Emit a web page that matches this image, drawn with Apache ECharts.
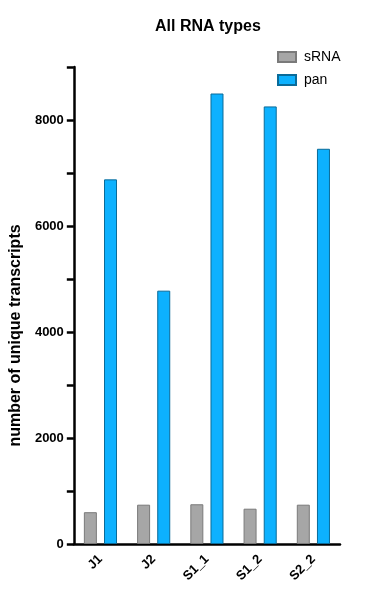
<!DOCTYPE html>
<html>
<head>
<meta charset="utf-8">
<script src="https://cdn.jsdelivr.net/npm/echarts@6/dist/echarts.min.js"></script>
<style>
html,body{margin:0;padding:0;background:#fff;}
#chart{width:371px;height:600px;}
</style>
</head>
<body>
<div id="chart"></div>
<script>
const categories = ['J1', 'J2', 'S1_1', 'S1_2', 'S2_2'];
const sRNA = [600, 742, 750, 666, 742];
const pan = [6880, 4780, 8500, 8256, 7457];
const seriesNames = ['sRNA', 'pan'];

const chart = echarts.init(document.getElementById('chart'), null, {renderer: 'canvas'});
const font = 'Liberation Sans, Arial, Helvetica, sans-serif';
chart.setOption({
  animation: false,
  backgroundColor: '#fff',
  title: {
    text: 'All RNA types',
    left: 150,
    top: 14,
    textStyle: {fontFamily: font, fontWeight: 'bold', fontSize: 16, color: '#000'}
  },
  legend: {
    orient: 'vertical',
    left: 272,
    top: 45,
    icon: 'rect',
    itemWidth: 18,
    itemHeight: 10,
    itemGap: 9,
    textStyle: {fontFamily: font, fontSize: 14, color: '#000', padding: [0, 0, 0, 3]},
    data: seriesNames
  },
  grid: {left: 69, right: 31, top: 67, bottom: 56, containLabel: false},
  xAxis: {
    type: 'category',
    data: categories,
    axisLine: {lineStyle: {color: '#000', width: 2.5}},
    axisTick: {alignWithLabel: true, length: 7, lineStyle: {color: '#000', width: 2.5}},
    axisLabel: {rotate: 45, margin: 13, fontFamily: font, fontWeight: 'bold', fontSize: 13, color: '#000'}
  },
  yAxis: {
    type: 'value',
    min: 0,
    max: 9000,
    interval: 1000,
    name: 'number of unique transcripts',
    nameLocation: 'middle',
    nameGap: 46,
    nameTextStyle: {fontFamily: font, fontWeight: 'bold', fontSize: 16, color: '#000', padding: [0, 60, 0, 0]},
    axisLine: {show: true, lineStyle: {color: '#000', width: 2.5}},
    axisTick: {show: true, length: 7, lineStyle: {color: '#000', width: 2.5}},
    splitLine: {show: false},
    axisLabel: {
      margin: 10,
      fontFamily: font, fontWeight: 'bold', fontSize: 13, color: '#000',
      formatter: v => (v % 2000 === 0 ? String(v) : '')
    }
  },
  series: [
    {
      name: seriesNames[0], type: 'bar', data: sRNA, barWidth: 13, barGap: '55%',
      itemStyle: {color: '#a6a6a6', borderColor: '#7a7a7a', borderWidth: 1}
    },
    {
      name: seriesNames[1], type: 'bar', data: pan, barWidth: 13,
      itemStyle: {color: '#0db1fe', borderColor: '#0a6b99', borderWidth: 1}
    }
  ]
});
</script>
</body>
</html>
